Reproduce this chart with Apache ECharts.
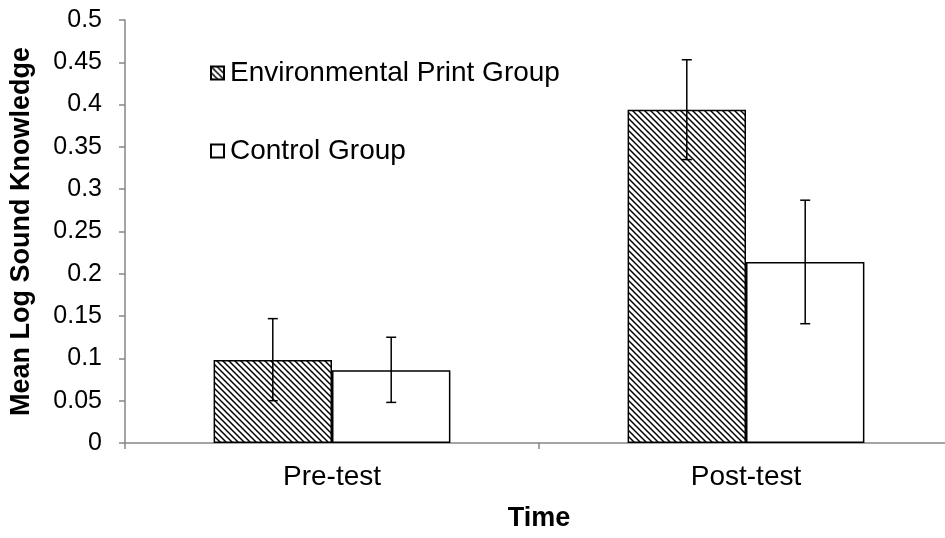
<!DOCTYPE html>
<html>
<head>
<meta charset="utf-8">
<script src="https://cdn.jsdelivr.net/npm/echarts@6/dist/echarts.min.js"></script>
<style>
  html, body { margin: 0; padding: 0; background: #fff; overflow: hidden; }
  #chart { width: 955px; height: 538px; }
</style>
</head>
<body>
<div id="chart"></div>
<script>
var categories = ['Pre-test', 'Post-test'];
var seriesNames = ['Environmental Print Group', 'Control Group'];
var envMeans = [0.098, 0.394];
var envLow = [0.050, 0.335];
var envHigh = [0.147, 0.453];
var ctrlMeans = [0.086, 0.214];
var ctrlLow = [0.048, 0.141];
var ctrlHigh = [0.125, 0.287];
var yTicks = ['0', '0.05', '0.1', '0.15', '0.2', '0.25', '0.3', '0.35', '0.4', '0.45', '0.5'];

var FONT = 'Liberation Sans, Arial, sans-serif';
var BAR_FRAC = 0.286;

// diagonal hatch, top-left to bottom-right
function hatch() {
  var c = document.createElement('canvas');
  c.width = 6; c.height = 6;
  var g = c.getContext('2d');
  g.fillStyle = '#fff';
  g.fillRect(0, 0, 6, 6);
  g.strokeStyle = '#000';
  g.lineWidth = 1.5;
  g.beginPath();
  g.moveTo(-1, -1); g.lineTo(7, 7);
  g.moveTo(-4, 2); g.lineTo(4, 10);
  g.moveTo(2, -4); g.lineTo(10, 4);
  g.stroke();
  return c;
}
var hatchFill = { image: hatch(), repeat: 'repeat' };

function errorSeries(low, high, side) {
  return {
    type: 'custom',
    silent: true,
    z: 10,
    data: categories.map(function (c, i) { return [i, low[i], high[i]]; }),
    renderItem: function (params, api) {
      var band = api.size([1, 0])[0];
      var off = side * band * BAR_FRAC / 2;
      var lo = api.coord([api.value(0), api.value(1)]);
      var hi = api.coord([api.value(0), api.value(2)]);
      var x = lo[0] + off;
      var cap = 5;
      var st = { stroke: '#000', lineWidth: 1.5 };
      return {
        type: 'group',
        children: [
          { type: 'line', shape: { x1: x, y1: lo[1], x2: x, y2: hi[1] }, style: st },
          { type: 'line', shape: { x1: x - cap, y1: lo[1], x2: x + cap, y2: lo[1] }, style: st },
          { type: 'line', shape: { x1: x - cap, y1: hi[1], x2: x + cap, y2: hi[1] }, style: st }
        ]
      };
    }
  };
}

var chart = echarts.init(document.getElementById('chart'));
chart.setOption({
  animation: false,
  backgroundColor: '#fff',
  grid: { left: 125, right: 2, top: 20, bottom: 95, containLabel: false },
  legend: {
    orient: 'vertical',
    left: 205,
    top: 54,
    itemGap: 50,
    itemWidth: 13,
    itemHeight: 13,
    icon: 'rect',
    data: seriesNames,
    textStyle: { fontFamily: FONT, fontSize: 28, color: '#000', padding: [0, 0, 0, 1] }
  },
  xAxis: {
    type: 'category',
    data: categories,
    name: 'Time',
    nameLocation: 'middle',
    nameGap: 62,
    nameTextStyle: { fontFamily: FONT, fontSize: 27, fontWeight: 'bold', color: '#000' },
    axisLine: { lineStyle: { color: '#868686', width: 1.5 } },
    axisTick: { show: true, length: 6, lineStyle: { color: '#868686', width: 1.5 } },
    axisLabel: { fontFamily: FONT, fontSize: 28, color: '#000', margin: 20 }
  },
  yAxis: {
    type: 'value',
    min: 0,
    max: 0.5,
    interval: 0.05,
    name: 'Mean Log Sound Knowledge',
    nameLocation: 'middle',
    nameGap: 90,
    nameTextStyle: { fontFamily: FONT, fontSize: 27, fontWeight: 'bold', color: '#000' },
    splitLine: { show: false },
    axisLine: { show: true, lineStyle: { color: '#868686', width: 1.5 } },
    axisTick: { show: true, length: 6, lineStyle: { color: '#868686', width: 1.5 } },
    axisLabel: {
      fontFamily: FONT, fontSize: 25, color: '#000', margin: 23,
      formatter: function (v) { return yTicks[Math.round(v / 0.05)]; }
    }
  },
  series: [
    {
      name: seriesNames[0],
      type: 'bar',
      data: envMeans,
      barWidth: (BAR_FRAC * 100) + '%',
      barGap: '0%',
      itemStyle: { color: hatchFill, borderColor: '#000', borderWidth: 1.5 }
    },
    {
      name: seriesNames[1],
      type: 'bar',
      data: ctrlMeans,
      barWidth: (BAR_FRAC * 100) + '%',
      barGap: '0%',
      itemStyle: { color: '#fff', borderColor: '#000', borderWidth: 1.5 }
    },
    errorSeries(envLow, envHigh, -1),
    errorSeries(ctrlLow, ctrlHigh, 1)
  ]
});
</script>
</body>
</html>
